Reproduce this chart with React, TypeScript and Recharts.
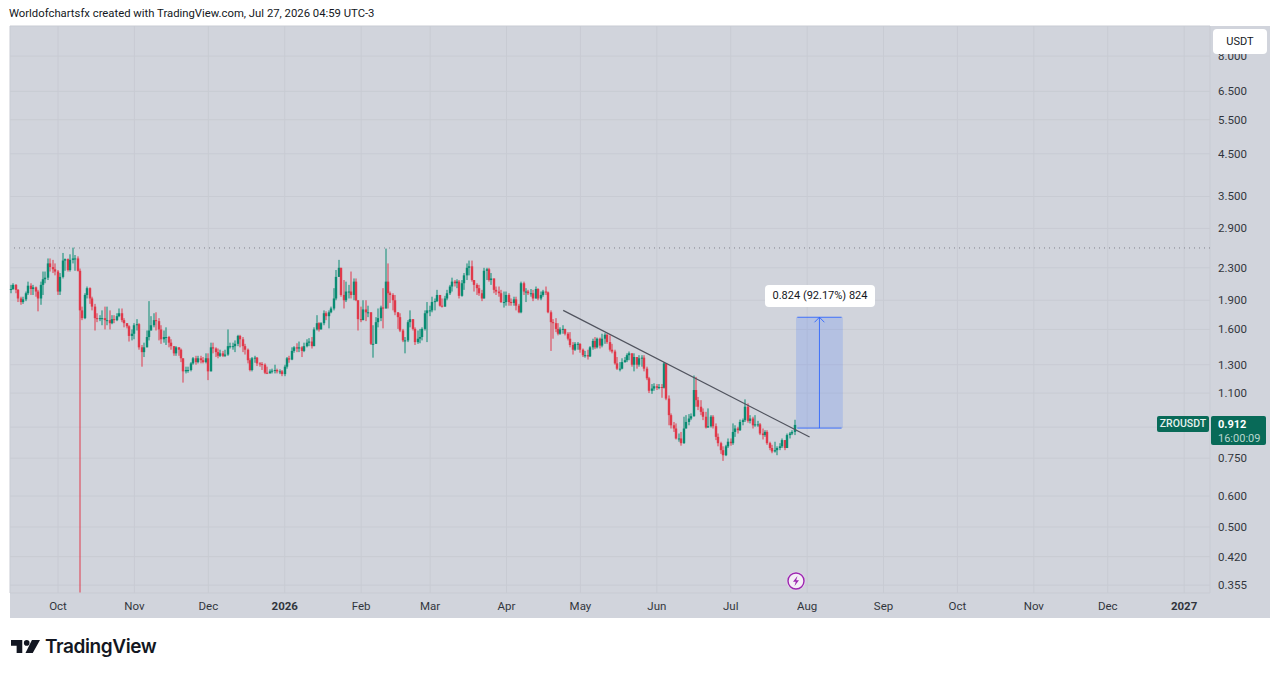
import { Bar, CartesianGrid, ComposedChart, ReferenceArea, ReferenceLine, XAxis, YAxis } from 'recharts'

const FONT = 'Roboto, sans-serif'
const UP = '#0a8c73'
const DOWN = '#e0394a'
const BLUE = '#2962ff'

// daily candles, first one is 2025-09-12
const closes = [
  2.03,2.08,2.02,1.92,1.88,1.91,1.98,2.07,2.03,2.05,
  2.00,1.92,2.08,2.15,2.17,2.36,2.31,2.28,2.25,2.00,
  2.18,2.40,2.42,2.27,2.41,2.43,2.43,2.26,1.79,1.71,
  1.96,2.04,1.92,1.83,1.71,1.70,1.71,1.71,1.69,1.69,
  1.66,1.70,1.69,1.73,1.76,1.69,1.66,1.63,1.54,1.56,
  1.64,1.65,1.44,1.40,1.44,1.53,1.59,1.64,1.69,1.68,
  1.60,1.51,1.53,1.53,1.48,1.45,1.39,1.44,1.42,1.35,
  1.25,1.26,1.26,1.31,1.35,1.32,1.35,1.335,1.32,1.35,
  1.25,1.44,1.43,1.40,1.37,1.39,1.37,1.38,1.45,1.45,
  1.45,1.47,1.54,1.51,1.45,1.42,1.335,1.26,1.35,1.355,
  1.31,1.305,1.30,1.24,1.235,1.25,1.255,1.26,1.25,1.25,
  1.23,1.285,1.35,1.34,1.41,1.44,1.43,1.44,1.41,1.45,
  1.48,1.49,1.45,1.60,1.66,1.60,1.66,1.76,1.73,1.77,
  1.81,1.92,2.18,2.30,1.96,1.90,2.00,2.00,1.96,2.12,
  1.90,1.70,1.69,1.80,1.77,1.77,1.47,1.47,1.67,1.71,
  1.82,1.81,2.12,1.98,1.96,1.90,1.77,1.72,1.59,1.50,
  1.50,1.67,1.70,1.605,1.485,1.515,1.53,1.605,1.76,1.79,
  1.79,1.88,1.89,1.96,1.84,1.83,1.92,1.98,2.06,2.12,
  2.10,2.12,1.95,2.10,2.20,2.30,2.32,2.14,2.08,2.04,
  1.98,1.92,2.26,2.28,2.14,2.16,2.02,2.00,1.98,1.88,
  1.88,1.96,1.88,1.87,1.91,1.84,1.77,2.10,2.00,2.00,
  1.98,1.98,1.92,2.03,1.92,1.96,2.00,1.99,1.77,1.67,
  1.66,1.605,1.56,1.60,1.605,1.56,1.515,1.46,1.42,1.47,
  1.47,1.42,1.375,1.375,1.365,1.44,1.495,1.44,1.515,1.455,
  1.515,1.55,1.485,1.42,1.405,1.31,1.27,1.27,1.32,1.335,
  1.375,1.39,1.30,1.36,1.30,1.35,1.355,1.27,1.20,1.115,
  1.13,1.145,1.135,1.14,1.135,1.31,1.065,.966,.91,.893,
  .842,.842,.819,.893,.928,.947,.96,1.12,1.055,1.015,
  .985,.957,.898,.905,.957,.905,.85,.819,.786,.763,
  .804,.826,.819,.875,.893,.884,.928,.938,1.015,.934,
  .947,.91,.915,.915,.867,.859,.875,.819,.796,.78,
  .786,.796,.804,.834,.796,.859,.867,.875,.912,
]
const highs = [
  2.08,2.10,2.09,2.03,1.94,1.94,2.00,2.12,2.10,2.08,
  2.06,2.02,2.12,2.25,2.25,2.43,2.43,2.41,2.36,2.27,
  2.23,2.51,2.43,2.43,2.49,2.59,2.48,2.46,2.29,1.83,
  1.98,2.06,2.05,1.94,1.86,1.76,1.74,1.79,1.83,1.83,
  1.79,1.74,1.74,1.76,1.81,1.81,1.71,1.66,1.64,1.60,
  1.66,1.70,1.66,1.46,1.48,1.59,1.89,1.73,1.76,1.77,
  1.71,1.64,1.59,1.62,1.54,1.51,1.45,1.45,1.44,1.43,
  1.35,1.285,1.285,1.32,1.36,1.37,1.37,1.37,1.36,1.39,
  1.39,1.48,1.48,1.44,1.43,1.42,1.41,1.42,1.60,1.48,
  1.48,1.50,1.55,1.55,1.53,1.47,1.43,1.35,1.36,1.37,
  1.36,1.32,1.32,1.31,1.285,1.265,1.27,1.30,1.27,1.265,
  1.26,1.30,1.36,1.37,1.44,1.45,1.475,1.49,1.45,1.48,
  1.51,1.52,1.53,1.62,1.74,1.67,1.67,1.79,1.78,1.79,
  1.83,2.04,2.27,2.41,2.30,2.14,2.12,2.08,2.25,2.16,
  2.16,1.90,1.83,1.90,1.90,1.84,1.77,1.64,1.72,1.81,
  1.84,2.04,2.575,2.36,2.00,1.98,1.96,1.77,1.76,1.605,
  1.53,1.69,1.79,1.70,1.62,1.59,1.605,1.62,1.79,1.88,
  1.84,1.94,1.92,2.02,1.96,1.92,1.95,2.02,2.08,2.17,
  2.14,2.15,2.14,2.14,2.23,2.36,2.40,2.40,2.14,2.10,
  2.08,2.02,2.30,2.30,2.30,2.23,2.16,2.06,2.06,2.02,
  2.00,2.00,1.98,1.92,1.94,1.94,1.86,2.12,2.12,2.04,
  2.02,2.03,2.02,2.06,2.04,2.00,2.02,2.06,2.00,1.79,
  1.70,1.71,1.66,1.62,1.64,1.605,1.575,1.575,1.485,1.485,
  1.485,1.475,1.43,1.41,1.42,1.45,1.515,1.53,1.525,1.525,
  1.56,1.565,1.56,1.545,1.47,1.42,1.36,1.32,1.35,1.36,
  1.39,1.405,1.39,1.39,1.36,1.375,1.375,1.375,1.285,1.21,
  1.16,1.165,1.16,1.16,1.16,1.32,1.175,1.085,.976,.928,
  .92,.867,.875,.957,.966,.972,.976,1.22,1.21,1.075,
  1.055,1.005,.985,1.005,.966,.966,.92,.867,.826,.804,
  .811,.842,.842,.92,.91,.902,.941,.947,1.06,1.035,
  .966,.957,.966,.934,.922,.893,.884,.884,.826,.811,
  .826,.804,.819,.842,.834,.867,.875,.884,.94,
]
const lows = [
  1.98,2.02,1.98,1.88,1.85,1.86,1.89,1.96,1.96,1.96,
  1.94,1.78,1.85,1.96,2.10,2.14,2.25,2.23,2.20,1.96,
  1.96,2.16,2.26,2.25,2.25,2.36,2.26,2.25,0.34,1.69,
  1.70,1.92,1.86,1.79,1.59,1.67,1.68,1.64,1.60,1.64,
  1.60,1.65,1.66,1.68,1.72,1.67,1.62,1.61,1.49,1.50,
  1.51,1.59,1.42,1.285,1.36,1.44,1.50,1.59,1.62,1.59,
  1.50,1.47,1.48,1.46,1.44,1.42,1.37,1.37,1.37,1.32,
  1.17,1.235,1.24,1.25,1.30,1.30,1.31,1.31,1.31,1.31,
  1.187,1.25,1.39,1.36,1.35,1.36,1.36,1.36,1.37,1.43,
  1.42,1.40,1.45,1.44,1.40,1.38,1.31,1.25,1.25,1.315,
  1.29,1.285,1.26,1.23,1.23,1.235,1.235,1.235,1.235,1.23,
  1.215,1.215,1.27,1.315,1.335,1.395,1.40,1.40,1.36,1.40,
  1.44,1.45,1.43,1.45,1.59,1.58,1.60,1.64,1.69,1.61,
  1.76,1.79,1.90,2.18,1.94,1.81,1.88,1.92,1.92,1.90,
  1.89,1.59,1.67,1.69,1.68,1.72,1.46,1.355,1.575,1.62,
  1.68,1.61,1.81,1.81,1.87,1.79,1.74,1.605,1.575,1.485,
  1.39,1.485,1.62,1.59,1.46,1.47,1.475,1.50,1.59,1.485,
  1.73,1.77,1.79,1.88,1.83,1.82,1.83,1.90,1.96,2.00,
  2.06,2.04,1.92,1.94,2.02,2.14,2.20,2.12,2.00,1.96,
  1.95,1.89,1.92,2.14,2.12,2.08,1.98,1.96,1.94,1.87,
  1.82,1.84,1.84,1.84,1.84,1.79,1.76,1.76,1.96,1.88,
  1.96,1.94,1.89,1.92,1.90,1.90,1.94,1.96,1.76,1.41,
  1.515,1.575,1.545,1.55,1.56,1.545,1.50,1.44,1.38,1.41,
  1.42,1.395,1.36,1.355,1.34,1.36,1.42,1.425,1.43,1.43,
  1.44,1.47,1.47,1.405,1.39,1.30,1.26,1.25,1.265,1.315,
  1.32,1.335,1.285,1.25,1.27,1.285,1.285,1.25,1.187,1.10,
  1.095,1.115,1.12,1.125,1.07,1.13,1.055,.91,.893,.875,
  .837,.826,.807,.816,.893,.91,.938,.957,1.015,.995,
  .966,.938,.893,.898,.898,.893,.834,.804,.769,.738,
  .759,.796,.807,.811,.85,.867,.88,.91,.928,.924,
  .92,.893,.902,.902,.859,.837,.85,.811,.786,.772,
  .775,.763,.786,.796,.786,.796,.842,.859,.859,
]

const priceTicks = [0.355, 0.42, 0.5, 0.6, 0.75, 0.9, 1.1, 1.3, 1.6, 1.9, 2.3, 2.9, 3.5, 4.5, 5.5, 6.5, 8]
const monthLabels: Record<string, string> = {
  '2025-10-01': 'Oct', '2025-11-01': 'Nov', '2025-12-01': 'Dec', '2026-01-01': '2026',
  '2026-02-01': 'Feb', '2026-03-01': 'Mar', '2026-04-01': 'Apr', '2026-05-01': 'May',
  '2026-06-01': 'Jun', '2026-07-01': 'Jul', '2026-08-01': 'Aug', '2026-09-01': 'Sep',
  '2026-10-01': 'Oct', '2026-11-01': 'Nov', '2026-12-01': 'Dec', '2027-01-01': '2027',
}

const resistance = 2.585
const trendStart = { day: '2026-04-24', price: 1.79 }
const trendEnd = { day: '2026-08-02', price: 0.849 }
const boxFrom = '2026-07-28'
const boxTo = '2026-08-15'
const boxMid = '2026-08-06'
const arrowLeft = '2026-08-04'
const arrowRight = '2026-08-08'
const entry = 0.895
const target = 1.719
const arrowBase = 1.669

const days: string[] = []
for (let i = 0; i < 487; i++) {
  days.push(new Date(Date.UTC(2025, 8, 12 + i)).toISOString().slice(0, 10))
}

const rows = days.map((day, i) => {
  if (i >= closes.length) return { day }
  const open = i === 0 ? 2.02 : closes[i - 1] // opens at the previous close
  return {
    day,
    open,
    close: closes[i],
    high: Math.max(highs[i], open, closes[i]),
    low: Math.min(lows[i], open, closes[i]),
  }
})

function Candle(props: any) {
  const { x, y, width, height, payload } = props
  if (payload.close == null || !isFinite(y) || !isFinite(height)) return null
  const { open, close, high, low } = payload
  const cx = Math.round(x + width / 2)
  // bar spans low..high, so open and close are placed inside it on the log scale
  const toY = (v: number) => y + (height * Math.log(high / v)) / Math.log(high / low)
  const top = toY(Math.max(open, close))
  const bottom = toY(Math.min(open, close))
  const color = close >= open ? UP : DOWN
  return (
    <g>
      <line x1={cx} x2={cx} y1={y} y2={y + height} stroke={color} strokeWidth={1} />
      <rect x={cx - 1.2} y={top} width={2.4} height={Math.max(bottom - top, 1)} fill={color} />
    </g>
  )
}

function TimeTick(props: any) {
  const { x, y, payload } = props
  const label = monthLabels[payload.value]
  const isYear = label === '2026' || label === '2027'
  return (
    <text x={x} y={y + 9} textAnchor="middle" fontFamily={FONT} fontSize={11.5} fontWeight={isYear ? 700 : 400} fill="#131722" opacity={0.85}>
      {label}
    </text>
  )
}

function PriceTick(props: any) {
  const { x, y, payload } = props
  if (payload.value === 0.9) return null // sits under the price label
  return (
    <text x={x} y={y + 4} fontFamily={FONT} fontSize={11.5} fill="#131722" opacity={0.85}>
      {payload.value.toFixed(3)}
    </text>
  )
}

const box = (left: number, top: number, width: number, height: number, extra: any = {}) => ({
  position: 'absolute' as const,
  left,
  top,
  width,
  height,
  fontFamily: FONT,
  ...extra,
})

export default function App() {
  return (
    <div style={{ position: 'absolute', left: 0, top: 0, width: 1280, height: 674, background: '#fff', overflow: 'hidden' }}>
      <div style={box(9, 7, 500, 14, { fontSize: 11.3, lineHeight: '14px', color: '#131722' })}>
        Worldofchartsfx created with TradingView.com, Jul 27, 2026 04:59 UTC-3
      </div>
      <div style={box(10, 26, 1260, 592, { background: '#d1d4dc' })} />

      <div style={{ position: 'absolute', left: 0, top: 0 }}>
        <ComposedChart width={1280} height={674} data={rows} margin={{ top: 26, right: 10, bottom: 56, left: 10 }} barSize={2}>
          <CartesianGrid stroke="#c8cbd3" strokeWidth={1} />
          <XAxis
            dataKey="day"
            type="category"
            ticks={Object.keys(monthLabels)}
            interval={0}
            height={25}
            axisLine={false}
            tickLine={false}
            tick={<TimeTick />}
          />
          <YAxis
            orientation="right"
            width={60}
            scale="log"
            domain={[0.339, 9.55]}
            allowDataOverflow
            ticks={priceTicks}
            interval={0}
            axisLine={false}
            tickLine={false}
            tick={<PriceTick />}
          />
          <ReferenceArea x1={boxFrom} x2={boxTo} y1={entry} y2={target} fill={BLUE} fillOpacity={0.17} stroke="none" />
          <Bar dataKey={(d: any) => (d.close == null ? null : [d.low, d.high])} shape={<Candle />} isAnimationActive={false} />
          <ReferenceLine y={resistance} stroke="#80838c" strokeDasharray="1 4" />
          <ReferenceLine segment={[{ x: trendStart.day, y: trendStart.price }, { x: trendEnd.day, y: trendEnd.price }]} stroke="#50535e" strokeWidth={1.2} />
          <ReferenceLine segment={[{ x: boxFrom, y: entry }, { x: boxTo, y: entry }]} stroke={BLUE} strokeOpacity={0.85} />
          <ReferenceLine segment={[{ x: boxFrom, y: target }, { x: boxTo, y: target }]} stroke={BLUE} strokeOpacity={0.85} />
          <ReferenceLine segment={[{ x: boxMid, y: entry }, { x: boxMid, y: target }]} stroke={BLUE} strokeOpacity={0.85} />
          <ReferenceLine segment={[{ x: arrowLeft, y: arrowBase }, { x: boxMid, y: target }]} stroke={BLUE} strokeOpacity={0.85} />
          <ReferenceLine segment={[{ x: arrowRight, y: arrowBase }, { x: boxMid, y: target }]} stroke={BLUE} strokeOpacity={0.85} />
        </ComposedChart>
      </div>

      <div style={box(1213, 29, 54, 25, { background: '#fff', borderRadius: 4, fontSize: 11, lineHeight: '25px', textAlign: 'center', color: '#131722' })}>USDT</div>

      <div style={box(765, 285, 110, 22, { background: '#fff', borderRadius: 4, fontSize: 11, lineHeight: '22px', textAlign: 'center', color: '#131722' })}>
        0.824 (92.17%) 824
      </div>

      <div style={box(1157, 416, 52, 16, { background: '#086a58', borderRadius: 2, fontSize: 10.5, fontWeight: 500, lineHeight: '16px', textAlign: 'center', color: '#e6f2ef' })}>ZROUSDT</div>
      <div style={box(1211, 416, 55, 29, { background: '#086a58', borderRadius: 2, color: '#fff', fontSize: 11, fontWeight: 700, lineHeight: '14px' })}>
        <div style={{ paddingLeft: 7, paddingTop: 2 }}>0.912</div>
        <div style={{ paddingLeft: 7, fontWeight: 400, color: '#b9d6cf' }}>16:00:09</div>
      </div>

      <svg style={{ position: 'absolute', left: 786, top: 571 }} width={20} height={20} viewBox="0 0 20 20">
        <circle cx={10} cy={10} r={9.5} fill="#e3d5ea" />
        <circle cx={10} cy={10} r={8} fill="#f4eef6" stroke="#9c27b0" strokeWidth={1.4} />
        <path d="M11.5 5 L7 10.8 H9.8 L8.5 15 L13 9.2 H10.2 Z" fill="#9c27b0" />
      </svg>

      <svg style={{ position: 'absolute', left: 11, top: 639 }} width={29} height={15} viewBox="0 0 36 18">
        <path d="M0 1 H14 V17 H7 V8 H0 Z M26 1 H36 L27 17 H18 Z" fill="#131722" />
        <circle cx={19.5} cy={4.5} r={3.5} fill="#131722" />
      </svg>
      <div style={box(45, 634, 130, 26, { fontFamily: 'Inter, sans-serif', fontSize: 19, fontWeight: 600, lineHeight: '26px', letterSpacing: -0.4, color: '#131722' })}>TradingView</div>
    </div>
  )
}
